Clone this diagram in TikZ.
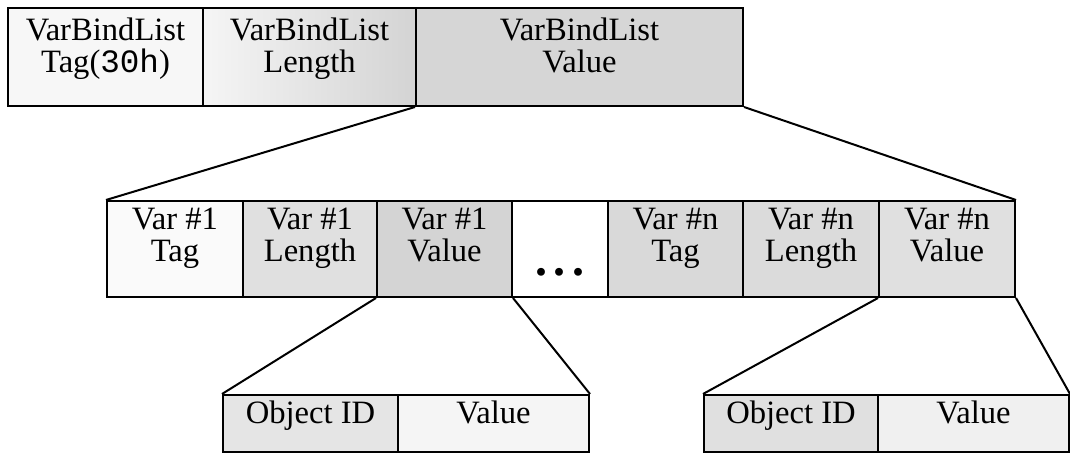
\documentclass[tikz,border=0pt]{standalone}
\usepackage{fontspec}
\setmainfont{Liberation Serif}
\newfontfamily\hexfont{Liberation Mono}

\begin{document}
\begin{tikzpicture}[x=1pt, y=-1pt, line width=1pt, every node/.style={font=\fontsize{16.3}{16}\selectfont},
  cell/.style={draw, inner sep=0pt, align=center},
  topline/.style={text height=27pt, text depth=11pt},
  twoline/.style={text height=27pt, text depth=14.4pt},
  oneline/.style={text height=10pt, text depth=10pt}]
  \useasboundingbox (0,0) rectangle (535,226.5);
  % varbind list
  \node[cell, topline, fill=black!3, minimum width=97.5pt, minimum height=49pt] (toptag) at (52.75,28.5) {VarBindList\\Tag({\hexfont 30h})};
  \node[cell, topline, left color=black!4, right color=black!17, minimum width=106.5pt, minimum height=49pt] (toplen) at (154.75,28.5) {VarBindList\\Length};
  \node[cell, topline, fill=black!16, minimum width=163.5pt, minimum height=49pt] (topval) at (289.75,28.5) {VarBindList\\Value};
  % variables
  \node[cell, twoline, fill=black!2, minimum width=68pt, minimum height=48pt] (tagone) at (87.5,124.5) {Var \#1\\Tag};
  \node[cell, twoline, fill=black!12, minimum width=67pt, minimum height=48pt] (lenone) at (155,124.5) {Var \#1\\Length};
  \node[cell, twoline, fill=black!17, minimum width=67.5pt, minimum height=48pt] (valone) at (222.25,124.5) {Var \#1\\Value};
  \node[cell, text height=27.4pt, text depth=1.2pt, fill=white, minimum width=48pt, minimum height=48pt, font=\fontsize{24}{24}\selectfont\bfseries] (gap) at (280,124.5) {.\hspace{3.25pt}.\hspace{3.25pt}.};
  \node[cell, twoline, fill=black!15, minimum width=67.5pt, minimum height=48pt] (tagn) at (337.75,124.5) {Var \#n\\Tag};
  \node[cell, twoline, fill=black!14, minimum width=68pt, minimum height=48pt] (lenn) at (405.5,124.5) {Var \#n\\Length};
  \node[cell, twoline, fill=black!12, minimum width=68pt, minimum height=48pt] (valn) at (473.5,124.5) {Var \#n\\Value};
  % object id / value pairs
  \node[cell, oneline, fill=black!10, minimum width=87.5pt, minimum height=28.5pt] (oidone) at (155.25,211.75) {Object ID};
  \node[cell, oneline, fill=black!4, minimum width=95.5pt, minimum height=28.5pt] (valueone) at (246.75,211.75) {Value};
  \node[cell, oneline, fill=black!12, minimum width=87pt, minimum height=28.5pt] (oidn) at (395.5,211.75) {Object ID};
  \node[cell, oneline, fill=black!6, minimum width=95.5pt, minimum height=28.5pt] (valuen) at (486.75,211.75) {Value};
  % fan lines
  \draw (topval.south west) -- (tagone.north west);
  \draw (topval.south east) -- (valn.north east);
  \draw (valone.south west) -- (oidone.north west);
  \draw (valone.south east) -- (valueone.north east);
  \draw (valn.south west) -- (oidn.north west);
  \draw (valn.south east) -- (valuen.north east);
\end{tikzpicture}
\end{document}
